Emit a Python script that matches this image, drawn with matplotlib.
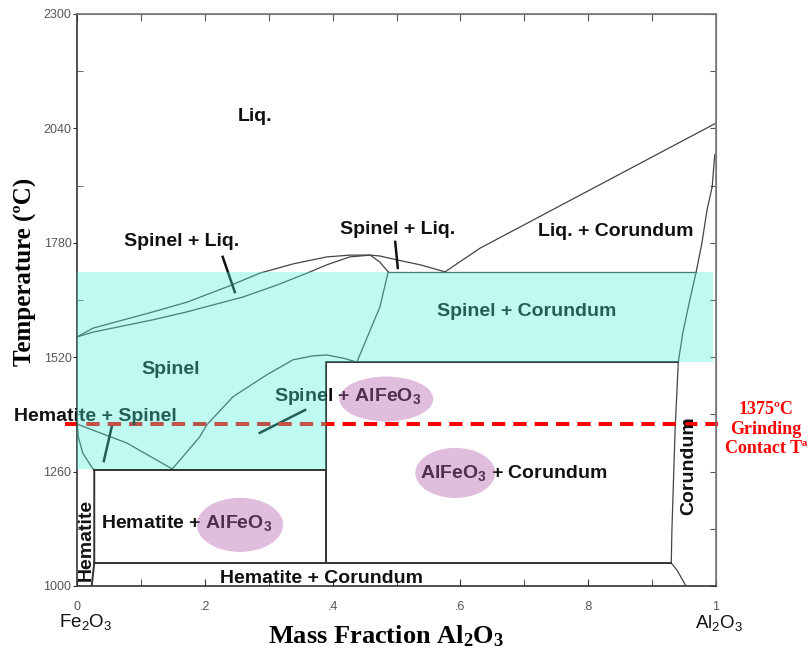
import matplotlib
matplotlib.use("Agg")
import matplotlib.pyplot as plt
import numpy as np
from matplotlib.patches import Polygon, Ellipse

# phase boundaries, mass fraction Al2O3 vs temperature (C)
liq_x = [0, 0.025, 0.119, 0.172, 0.235, 0.286, 0.338, 0.391, 0.427, 0.459, 0.474, 0.501, 0.537, 0.576]
liq_t = [1566, 1586, 1623, 1645, 1680, 1711, 1732, 1748, 1752, 1752, 1750, 1741, 1730, 1714]

sol_x = [0, 0.025, 0.119, 0.172, 0.260, 0.313, 0.365, 0.391, 0.427, 0.459, 0.474, 0.487]
sol_t = [1566, 1577, 1605, 1623, 1657, 1684, 1714, 1730, 1748, 1752, 1736, 1714]

spcor_x = [0.487, 0.474, 0.459, 0.438]
spcor_t = [1714, 1634, 1582, 1509]

eut_x = [0.487, 0.969]
eut_t = [1714, 1714]

corliq_x = [0.576, 0.631, 1.0]
corliq_t = [1714, 1768, 2052]

corsol_x = [0.998, 0.994, 0.986, 0.978, 0.969, 0.959, 0.948, 0.941, 0.936, 0.931, 0.930, 0.939, 0.953]
corsol_t = [1980, 1907, 1855, 1780, 1714, 1650, 1575, 1509, 1355, 1127, 1052, 1036, 1000]

spalf_x = [0.149, 0.161, 0.192, 0.203, 0.244, 0.297, 0.338, 0.369, 0.391, 0.416, 0.438]
spalf_t = [1266, 1286, 1339, 1366, 1430, 1480, 1514, 1523, 1525, 1518, 1509]

hemsp_x = [0, 0.078, 0.149]
hemsp_t = [1368, 1325, 1266]

hemsolv_x = [0, 0.002, 0.009, 0.025, 0.027]
hemsolv_t = [1377, 1339, 1302, 1266, 1264]

hem_x = [0.027, 0.027, 0.023]
hem_t = [1264, 1052, 1000]

# box lines of the low temperature fields
alf_box_x = [0.39, 0.39, 0.941]
alf_box_t = [1052, 1509, 1509]
low_x = [0.027, 0.930]
low_t = [1052, 1052]
hem_alf_x = [0.027, 0.39]
hem_alf_t = [1264, 1264]

# shaded spinel area
shade_x = [0, 0.995, 0.995, 0.39, 0.39, 0]
shade_t = [1714, 1714, 1509, 1509, 1266, 1266]

grind_t = 1368
grind_x = [-0.019, 1.003]

# leader lines
leaders = [
    ([0.228, 0.247], [1748, 1668]),
    ([0.498, 0.502], [1782, 1723]),
    ([0.055, 0.042], [1366, 1284]),
    ([0.357, 0.286], [1400, 1348]),
]

labels = [
    ("Liq.", 0.279, 2066, 0),
    ("Spinel + Liq.", 0.163, 1784, 0),
    ("Spinel + Liq.", 0.501, 1811, 0),
    ("Liq. + Corundum", 0.843, 1805, 0),
    ("Spinel + Corundum", 0.703, 1625, 0),
    ("Spinel", 0.147, 1493, 0),
    ("Hematite + Spinel", 0.028, 1386, 0),
    ("Spinel + AlFeO$_3$", 0.423, 1430, 0),
    ("AlFeO$_3$ + Corundum", 0.684, 1257, 0),
    ("Hematite + AlFeO$_3$", 0.171, 1143, 0),
    ("Hematite + Corundum", 0.383, 1018, 0),
    ("Hematite", 0.014, 1105, 90),
    ("Corundum", 0.958, 1273, 90),
]

# AlFeO3 highlights: centre x, centre T, width, height
blobs_x = [0.484, 0.592, 0.255]
blobs_t = [1425, 1257, 1139]
blobs_w = [0.147, 0.125, 0.135]
blobs_h = [102, 114, 123]

y_ticks = [1000, 1260, 1520, 1780, 2040, 2300]
x_ticks = [0, 0.2, 0.4, 0.6, 0.8, 1.0]
x_tick_labels = ["0", ".2", ".4", ".6", ".8", "1"]

plt.rcParams["mathtext.default"] = "regular"
sans = "Liberation Sans"
serif = "Liberation Serif"

fig = plt.figure(figsize=(8.1, 6.53), dpi=100)
ax = fig.add_axes([77 / 810, 1 - 586 / 653, 639 / 810, 572 / 653])
ax.set_xlim(0, 1)
ax.set_ylim(1000, 2300)

line_kw = dict(color="#444444", lw=0.9, zorder=2)
for xs, ts in [(liq_x, liq_t), (sol_x, sol_t), (spcor_x, spcor_t), (eut_x, eut_t),
               (corliq_x, corliq_t), (corsol_x, corsol_t), (spalf_x, spalf_t),
               (hemsp_x, hemsp_t), (hemsolv_x, hemsolv_t)]:
    ax.plot(xs, ts, **line_kw)

box_kw = dict(color="#333333", lw=1.4, zorder=2)
for xs, ts in [(alf_box_x, alf_box_t), (low_x, low_t), (hem_alf_x, hem_alf_t), (hem_x, hem_t)]:
    ax.plot(xs, ts, **box_kw)

for xs, ts in leaders:
    ax.plot(xs, ts, color="#111111", lw=1.8, zorder=2)

ax.plot(grind_x, [grind_t, grind_t], color="red", lw=2.9, dashes=(3.3, 2.0),
        clip_on=False, zorder=2)

for text, x, t, rot in labels:
    ax.text(x, t, text, ha="center", va="center", rotation=rot, fontsize=14,
            fontweight="bold", family=sans, color="#111111", zorder=2)

# overlays go on top so the lines and text beneath are tinted
ax.add_patch(Polygon(np.column_stack([shade_x, shade_t]), closed=True,
                     facecolor="#45f1d4", edgecolor="none", alpha=0.35, zorder=3))
for bx, bt, bw, bh in zip(blobs_x, blobs_t, blobs_w, blobs_h):
    ax.add_patch(Ellipse((bx, bt), bw, bh, facecolor="#b65cac", edgecolor="none",
                         alpha=0.4, zorder=3))

# ticks
for side in ["left", "bottom"]:
    ax.spines[side].set_color("#333333")
for side in ["top", "right"]:
    ax.spines[side].set_color("#777777")
for sp in ax.spines.values():
    sp.set_linewidth(1.2)

ax.set_yticks(y_ticks)
ax.set_yticklabels([str(v) for v in y_ticks])
ax.set_yticks(np.arange(1000, 2301, 130), minor=True)
ax.tick_params(axis="y", which="major", direction="out", length=3, pad=1,
               labelsize=9, labelcolor="#555555", color="#333333")
ax.tick_params(axis="y", which="minor", direction="in", length=4, color="#555555")
for lab in ax.get_yticklabels():
    lab.set_family(sans)

ax.set_xticks(x_ticks)
ax.set_xticklabels(x_tick_labels)
ax.set_xticks(np.arange(0, 1.01, 0.1), minor=True)
ax.tick_params(axis="x", which="both", direction="in", length=5, pad=11,
               labelsize=9, labelcolor="#555555", color="#333333")
for lab in ax.get_xticklabels():
    lab.set_family(sans)

top = ax.secondary_xaxis("top")
top.set_xticks(np.arange(0, 1.01, 0.1))
top.tick_params(direction="in", length=5, labeltop=False, color="#555555")
top.spines["top"].set_color("#777777")
right = ax.secondary_yaxis("right")
right.set_yticks(np.arange(1000, 2301, 130))
right.tick_params(direction="in", length=4, labelright=False, color="#555555")
right.spines["right"].set_color("#777777")

fig.text(86 / 810, 1 - 622 / 653, "Fe$_2$O$_3$", ha="center", va="center",
         fontsize=13.5, family=sans, color="#111111")
fig.text(719 / 810, 1 - 623 / 653, "Al$_2$O$_3$", ha="center", va="center",
         fontsize=13.5, family=sans, color="#111111")
fig.text(386 / 810, 1 - 636 / 653, "Mass Fraction Al$_2$O$_3$", ha="center", va="center",
         fontsize=19, fontweight="bold", family=serif)
fig.text(25 / 810, 1 - 272 / 653, "Temperature (ºC)", ha="center", va="center",
         rotation=90, fontsize=18, fontweight="bold", family=serif)
fig.text(766 / 810, 1 - 429 / 653, "1375ºC\nGrinding\nContact Tª", ha="center",
         va="center", fontsize=13, fontweight="bold", family=serif, color="red",
         linespacing=1.2)

fig.savefig("out.png", dpi=100)
